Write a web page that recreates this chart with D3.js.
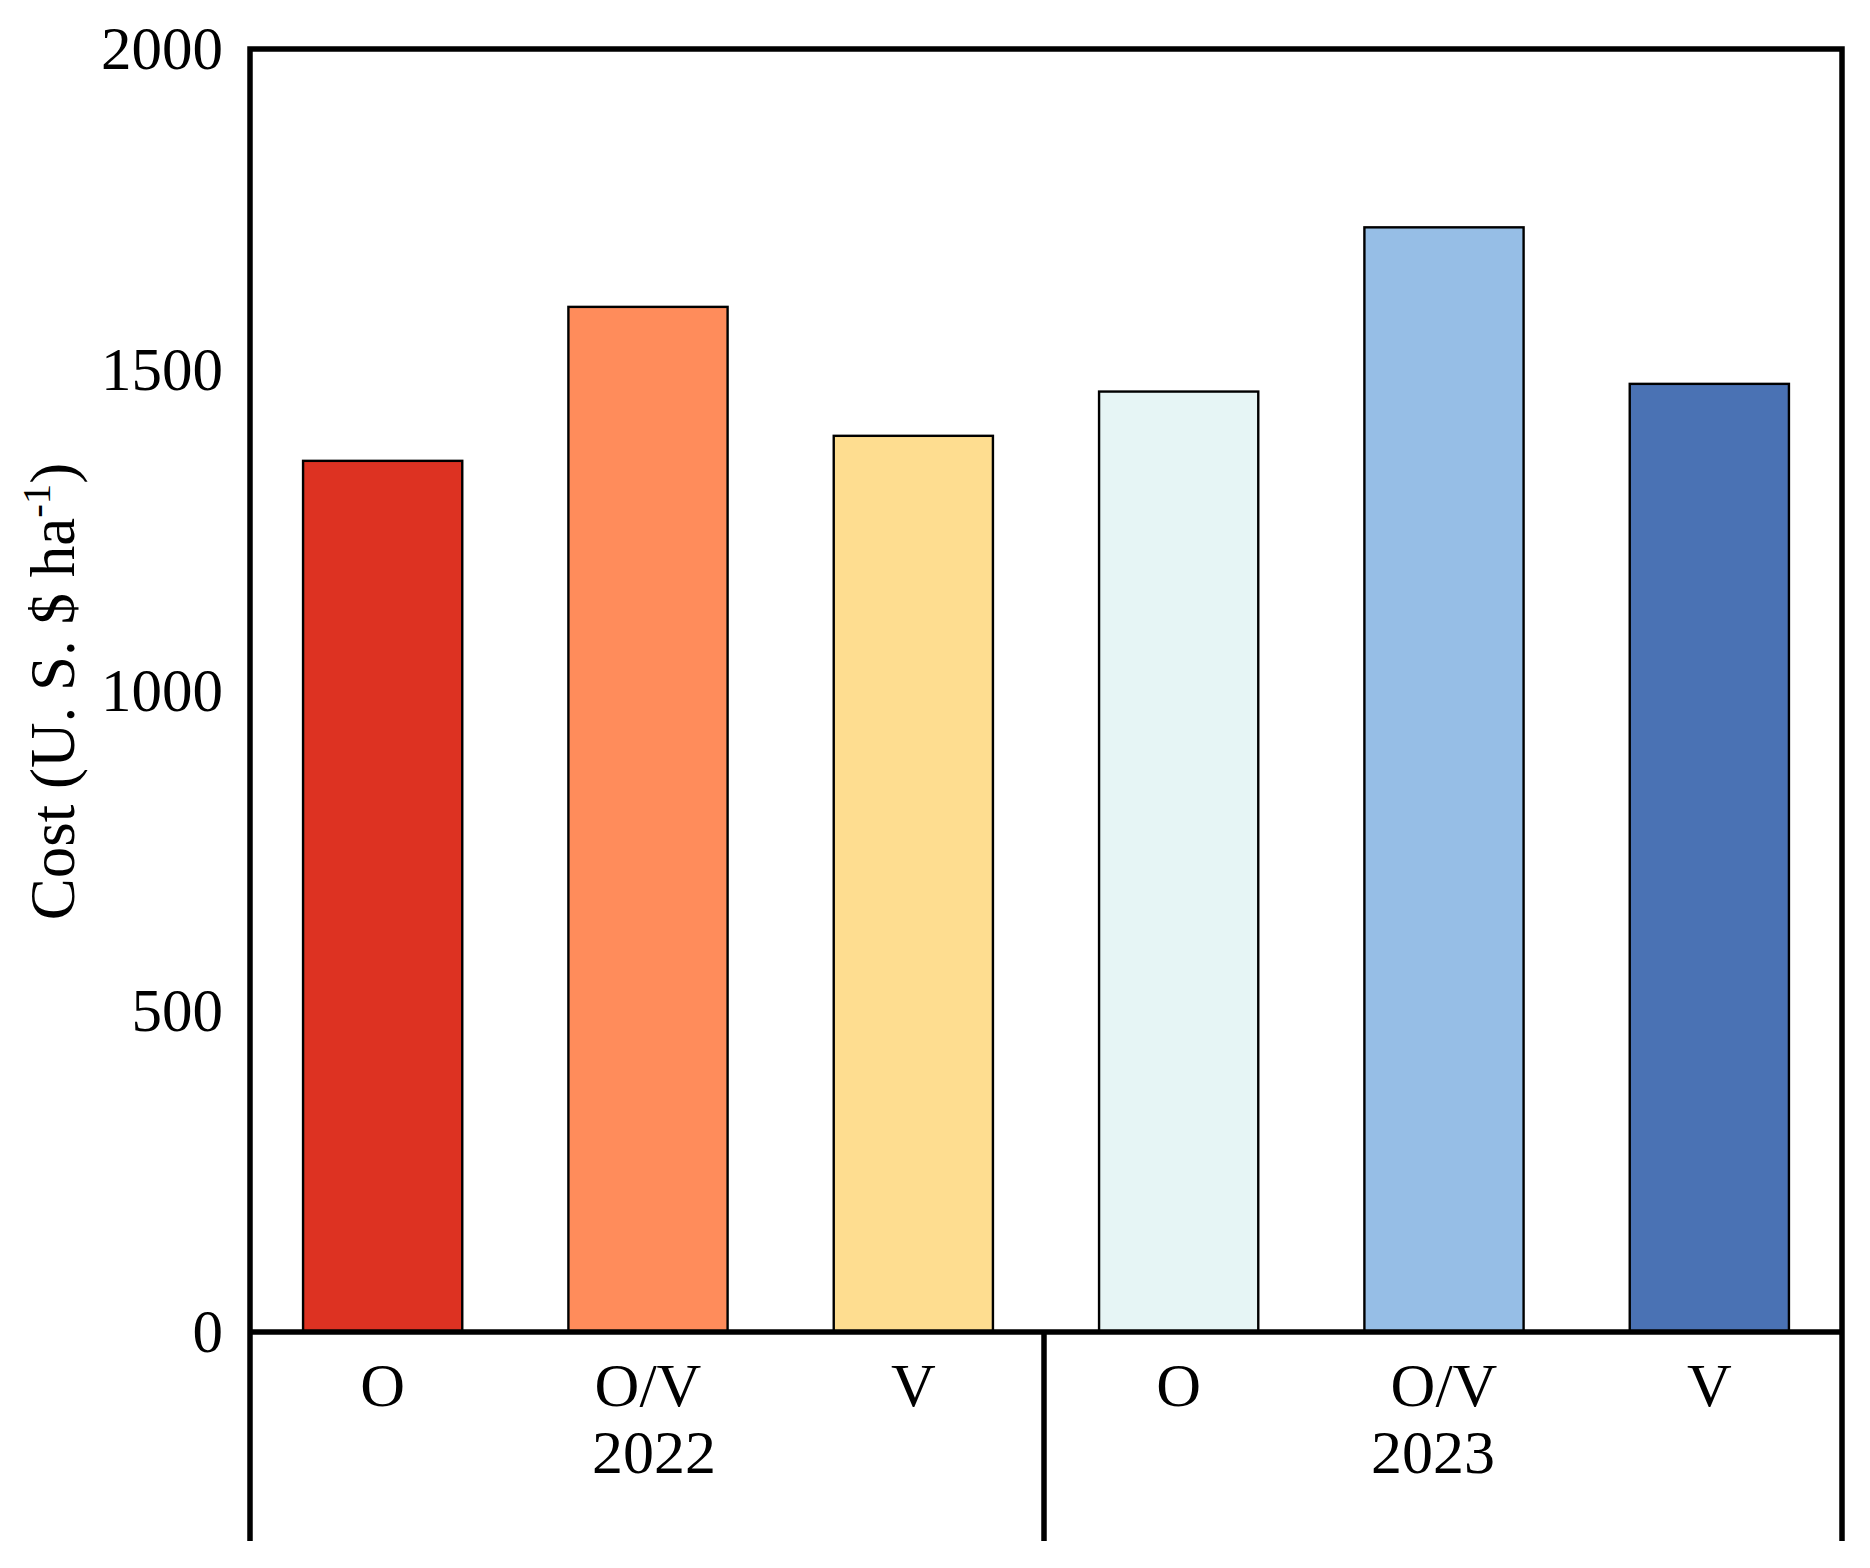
<!DOCTYPE html>
<html>
<head>
<meta charset="utf-8">
<script src="https://cdn.jsdelivr.net/npm/d3@7"></script>
<style>
html,body{margin:0;padding:0;background:#fff;}
svg{display:block;}
text{font-family:"Liberation Serif","Times New Roman",serif;fill:#000;}
</style>
</head>
<body>
<svg id="chart" width="1870" height="1568"></svg>
<script>
// ---- data ----
const years = ["2022", "2023"];
const treatments = ["O", "O/V", "V"];
const values2022 = [1358, 1598, 1397];
const values2023 = [1466, 1722, 1478];
const colors2022 = ["#dd3222", "#ff8c5b", "#fedd90"];
const colors2023 = ["#e6f5f5", "#96bee6", "#4a72b4"];
const yTicks = [0, 500, 1000, 1500, 2000];
const yTitle = "Cost (U. S. $ ha";
const yTitleSup = "-1";

(function () {
  const rows = [];
  years.forEach((yr, i) => {
    const vals = i === 0 ? values2022 : values2023;
    const cols = i === 0 ? colors2022 : colors2023;
    treatments.forEach((t, j) => rows.push({key: yr + "-" + t, year: yr, label: t, value: vals[j], color: cols[j]}));
  });

  // ---- layout ----
  const mLeft = 250, mRight = 1842, mTop = 49, mBottom = 1332, lowerEnd = 1541;
  const yearShift = [6, -11];
  const svg = d3.select("#chart");

  const x = d3.scaleBand().domain(rows.map(d => d.key)).range([mLeft, mRight])
    .paddingInner(0.4).paddingOuter(0.2);
  const y = d3.scaleLinear().domain([0, 2000]).range([mBottom, mTop]);

  // bars
  svg.append("g").selectAll("rect").data(rows).join("rect")
    .attr("x", d => x(d.key))
    .attr("y", d => y(d.value))
    .attr("width", x.bandwidth())
    .attr("height", d => y(0) - y(d.value))
    .attr("fill", d => d.color)
    .attr("stroke", "#000")
    .attr("stroke-width", 2.4);

  // y axis tick labels
  const yAxis = d3.axisLeft(y).tickValues(yTicks).tickFormat(d3.format("d")).tickSize(0).tickPadding(27);
  const gy = svg.append("g").attr("transform", `translate(${mLeft},0)`).call(yAxis);
  gy.select(".domain").remove();
  gy.selectAll("text").style("font-size", "61px")
    .style("font-family", '"Liberation Serif","Times New Roman",serif').attr("fill", "#000");

  // frame
  const divX = mLeft + (mRight - mLeft) / 2;
  const frame = svg.append("g").attr("fill", "none").attr("stroke", "#000").attr("stroke-width", 5.5);
  frame.append("path")
    .attr("d", `M${mLeft},${lowerEnd}V${y(2000)}H${mRight}V${lowerEnd}`)
    .attr("stroke-linejoin", "miter");
  frame.append("line").attr("x1", mLeft).attr("x2", mRight).attr("y1", y(0)).attr("y2", y(0));
  frame.append("line").attr("x1", divX - 2).attr("x2", divX - 2).attr("y1", y(0)).attr("y2", lowerEnd);

  // x labels
  svg.append("g").selectAll("text").data(rows).join("text")
    .attr("x", d => x(d.key) + x.bandwidth() / 2)
    .attr("y", 1406)
    .attr("text-anchor", "middle")
    .style("font-size", "62px")
    .text(d => d.label);

  // year labels
  svg.append("g").selectAll("text").data(years).join("text")
    .attr("x", (d, i) => {
      const ks = rows.filter(r => r.year === d).map(r => x(r.key));
      return (d3.min(ks) + d3.max(ks) + x.bandwidth()) / 2 + yearShift[i];
    })
    .attr("y", 1473)
    .attr("text-anchor", "middle")
    .style("font-size", "62px")
    .text(d => d);

  // y title
  const t = svg.append("text")
    .attr("transform", `translate(74,${(mTop + mBottom) / 2 + 1}) rotate(-90)`)
    .attr("text-anchor", "middle")
    .style("font-size", "63px");
  t.append("tspan").text(yTitle);
  t.append("tspan").attr("dy", -24).style("font-size", "41px").text(yTitleSup);
  t.append("tspan").attr("dy", 24).text(")");
})();
</script>
</body>
</html>
